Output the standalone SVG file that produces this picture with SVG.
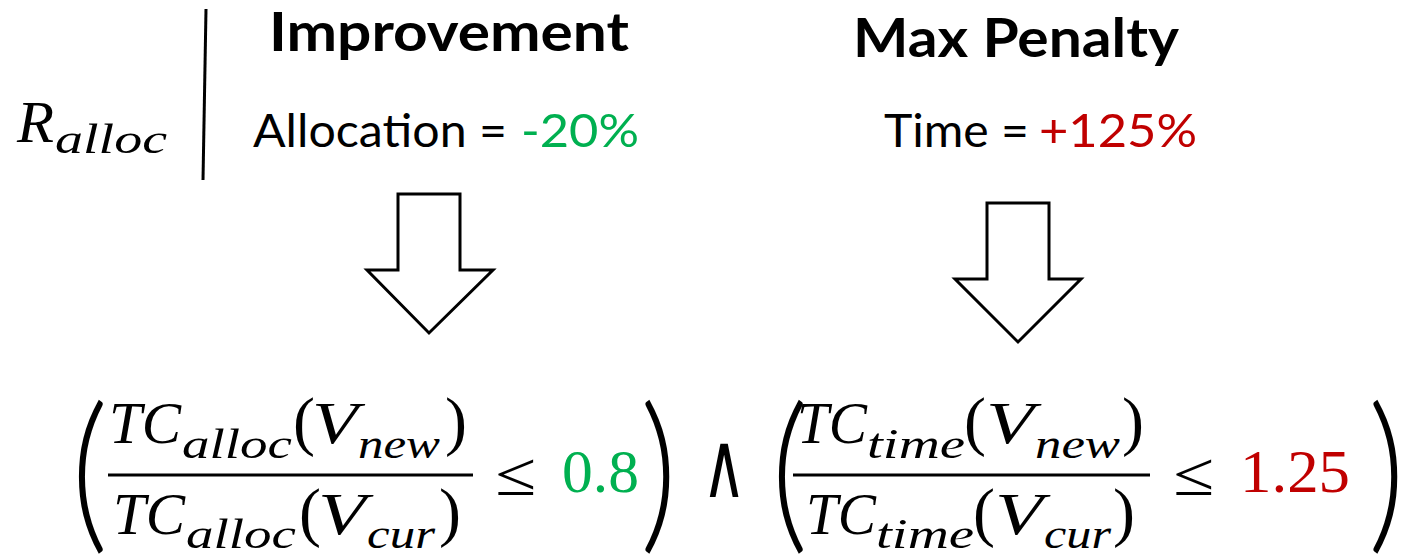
<svg xmlns="http://www.w3.org/2000/svg" width="1404" height="554" viewBox="0 0 1404 554">
<style>
.h{font-family:Lato,"Open Sans","Liberation Sans",sans-serif;font-weight:700;font-size:53px;fill:#000}
.t{font-family:Lato,"Open Sans","Liberation Sans",sans-serif;font-size:46px;fill:#000}
.m{font-family:"Liberation Serif","DejaVu Serif",serif;font-style:italic;font-size:60px;fill:#000}
.s{font-family:"Liberation Serif","DejaVu Serif",serif;font-style:italic;font-size:42px;fill:#000}
.u{font-family:"Liberation Serif","DejaVu Serif",serif;font-size:62px;fill:#000}
.p{font-family:"Liberation Serif","DejaVu Serif",serif;font-size:66px;fill:#000}
.bp{font-family:Lato,"Liberation Sans",sans-serif;font-weight:300;font-size:80px;fill:#000}
.op{font-family:"DejaVu Sans",sans-serif;font-weight:200;font-size:92px;fill:#000}
.arrow{fill:#fff;stroke:#000;stroke-width:3;stroke-linejoin:miter}
.rule{stroke:#000;stroke-width:3}
.g{fill:#00B050}
.r{fill:#C00000}
</style>

<g id="label-r-alloc">
<text class="m" x="17" y="142" font-size="63" textLength="37" lengthAdjust="spacingAndGlyphs">R</text>
<text class="s" x="55" y="153" font-size="44" textLength="112" lengthAdjust="spacingAndGlyphs">alloc</text>
</g>
<line id="divider" class="rule" x1="206" y1="9" x2="203" y2="180"/>

<g id="improvement">
<text class="h" x="269" y="51" textLength="360" lengthAdjust="spacingAndGlyphs">Improvement</text>
<text class="t" x="253" y="147" textLength="254" lengthAdjust="spacingAndGlyphs">Allocation =</text>
<text class="t g" x="521" y="147" textLength="118" lengthAdjust="spacingAndGlyphs">-20%</text>
</g>

<g id="max-penalty">
<text class="h" x="853" y="57" textLength="326" lengthAdjust="spacingAndGlyphs">Max Penalty</text>
<text class="t" x="884" y="147" textLength="145" lengthAdjust="spacingAndGlyphs">Time =</text>
<text class="t r" x="1039" y="147" textLength="158" lengthAdjust="spacingAndGlyphs">+125%</text>
</g>

<g id="connectors">
<polygon class="arrow" points="398,194 460,194 460,270 493,270 429,333 367,270 398,270"/>
<polygon class="arrow" points="987,203 1049,203 1049,279 1081,279 1018,342 955,279 987,279"/>
</g>

<g id="formula-alloc">
<text class="bp" transform="translate(71,531) scale(1.8,2.15)">(</text>
<text class="m" x="109" y="443" textLength="72" lengthAdjust="spacingAndGlyphs">TC</text>
<text class="s" x="182" y="458" textLength="110" lengthAdjust="spacingAndGlyphs">alloc</text>
<text class="p" x="293" y="443">(</text>
<text class="m" x="312" y="443" font-size="62" textLength="46" lengthAdjust="spacingAndGlyphs">V</text>
<text class="s" x="358" y="458" textLength="82" lengthAdjust="spacingAndGlyphs">new</text>
<text class="p" x="445" y="443">)</text>
<line class="rule" x1="108" y1="475" x2="473" y2="475"/>
<text class="m" x="113" y="534" textLength="72" lengthAdjust="spacingAndGlyphs">TC</text>
<text class="s" x="186" y="548" textLength="110" lengthAdjust="spacingAndGlyphs">alloc</text>
<text class="p" x="299" y="534">(</text>
<text class="m" x="318" y="534" font-size="62" textLength="48" lengthAdjust="spacingAndGlyphs">V</text>
<text class="s" x="367" y="548" textLength="68" lengthAdjust="spacingAndGlyphs">cur</text>
<text class="p" x="439" y="534">)</text>
<text class="u" x="495" y="495" font-size="68" textLength="41" lengthAdjust="spacingAndGlyphs">≤</text>
<text class="u g" x="562" y="492" textLength="77" lengthAdjust="spacingAndGlyphs">0.8</text>
<text class="bp" transform="translate(640,531) scale(1.8,2.15)">)</text>
</g>

<text id="and" class="op" x="702" y="497" textLength="44" lengthAdjust="spacingAndGlyphs">∧</text>

<g id="formula-time">
<text class="bp" transform="translate(771,531) scale(1.8,2.15)">(</text>
<text class="m" x="797" y="443" textLength="70" lengthAdjust="spacingAndGlyphs">TC</text>
<text class="s" x="867" y="458" textLength="98" lengthAdjust="spacingAndGlyphs">time</text>
<text class="p" x="964" y="443">(</text>
<text class="m" x="986" y="443" font-size="62" textLength="48" lengthAdjust="spacingAndGlyphs">V</text>
<text class="s" x="1035" y="458" textLength="85" lengthAdjust="spacingAndGlyphs">new</text>
<text class="p" x="1122" y="443">)</text>
<line class="rule" x1="793" y1="475" x2="1150" y2="475"/>
<text class="m" x="806" y="534" textLength="70" lengthAdjust="spacingAndGlyphs">TC</text>
<text class="s" x="876" y="548" textLength="98" lengthAdjust="spacingAndGlyphs">time</text>
<text class="p" x="973" y="534">(</text>
<text class="m" x="995" y="534" font-size="62" textLength="48" lengthAdjust="spacingAndGlyphs">V</text>
<text class="s" x="1044" y="548" textLength="67" lengthAdjust="spacingAndGlyphs">cur</text>
<text class="p" x="1113" y="534">)</text>
<text class="u" x="1173" y="495" font-size="68" textLength="41" lengthAdjust="spacingAndGlyphs">≤</text>
<text class="u r" x="1240" y="492" textLength="110" lengthAdjust="spacingAndGlyphs">1.25</text>
<text class="bp" transform="translate(1368,531) scale(1.8,2.15)">)</text>
</g>
</svg>
